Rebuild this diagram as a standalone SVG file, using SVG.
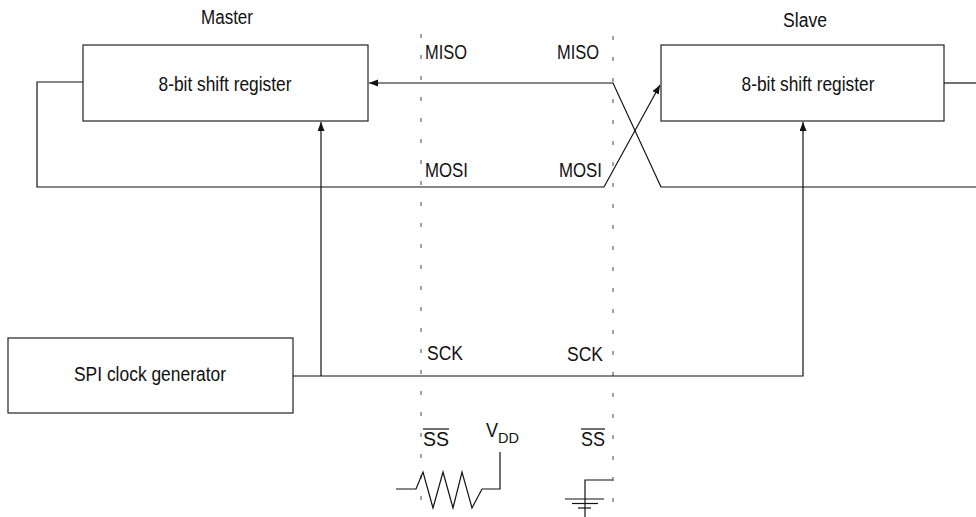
<svg xmlns="http://www.w3.org/2000/svg" width="976" height="517" viewBox="0 0 976 517">
<style>
text{font-family:"Liberation Sans",Arial,sans-serif;font-size:20px;fill:#111}
.box{fill:#fff;stroke:#222;stroke-width:1.2}
.w{fill:none;stroke:#111;stroke-width:1.2}
.d{fill:none;stroke:#444;stroke-width:1;stroke-dasharray:4 17}
.sub{font-size:15px}
</style>
<defs>
<marker id="ah" markerUnits="userSpaceOnUse" markerWidth="10" markerHeight="8" refX="9" refY="3.5" orient="auto">
<path d="M0,0 L9,3.5 L0,7 z" fill="#111"/>
</marker>
</defs>
<g id="labels">
<text x="227" y="24" text-anchor="middle" textLength="52" lengthAdjust="spacingAndGlyphs">Master</text>
<text x="805" y="27" text-anchor="middle" textLength="44" lengthAdjust="spacingAndGlyphs">Slave</text>
</g>
<g id="master">
<rect class="box" x="83" y="45" width="285" height="76"/>
<text x="225" y="91" text-anchor="middle" textLength="133" lengthAdjust="spacingAndGlyphs">8-bit shift register</text>
</g>
<g id="slave">
<rect class="box" x="661" y="45" width="283" height="76"/>
<text x="808" y="91" text-anchor="middle" textLength="133" lengthAdjust="spacingAndGlyphs">8-bit shift register</text>
</g>
<g id="clock">
<rect class="box" x="8" y="338" width="285" height="75"/>
<text x="150" y="381" text-anchor="middle" textLength="152" lengthAdjust="spacingAndGlyphs">SPI clock generator</text>
</g>
<g id="boundaries">
<line class="d" x1="421" y1="34" x2="421" y2="517"/>
<line class="d" x1="613" y1="36" x2="613" y2="517"/>
</g>
<g id="connectors">
<path class="w" d="M83,82 H37 V187 H604 L660,85" marker-end="url(#ah)"/>
<path class="w" d="M976,187 H661 L613,83 H369" marker-end="url(#ah)"/>
<path class="w" d="M944,83 H976"/>
<path class="w" d="M293,376 H803 V122" marker-end="url(#ah)"/>
<path class="w" d="M321,376 V122" marker-end="url(#ah)"/>
</g>
<g id="signal-labels">
<text x="425" y="59" textLength="42" lengthAdjust="spacingAndGlyphs">MISO</text>
<text x="557" y="59" textLength="42" lengthAdjust="spacingAndGlyphs">MISO</text>
<text x="425" y="177" textLength="43" lengthAdjust="spacingAndGlyphs">MOSI</text>
<text x="559" y="177" textLength="43" lengthAdjust="spacingAndGlyphs">MOSI</text>
<text x="427" y="360" textLength="36" lengthAdjust="spacingAndGlyphs">SCK</text>
<text x="567" y="361" textLength="36" lengthAdjust="spacingAndGlyphs">SCK</text>
<text x="423" y="446" textLength="26" lengthAdjust="spacingAndGlyphs">SS</text>
<line class="w" x1="423" y1="429" x2="449" y2="429"/>
<text x="581" y="446" textLength="24" lengthAdjust="spacingAndGlyphs">SS</text>
<line class="w" x1="581" y1="429" x2="605" y2="429"/>
<text x="486" y="437" textLength="12" lengthAdjust="spacingAndGlyphs">V</text>
<text class="sub" x="498" y="443" textLength="21" lengthAdjust="spacingAndGlyphs">DD</text>
</g>
<g id="pullup-resistor">
<path class="w" d="M396,489 H416 L423,472 L433,508 L443,472 L453,508 L462,472 L472,508 L482,489 H500 V452"/>
</g>
<g id="ground">
<path class="w" d="M613,480 H585 V517"/>
<line class="w" x1="565" y1="499" x2="604" y2="499"/>
<line class="w" x1="572" y1="503.5" x2="598" y2="503.5"/>
<line class="w" x1="578" y1="508" x2="591" y2="508"/>
</g>
</svg>
